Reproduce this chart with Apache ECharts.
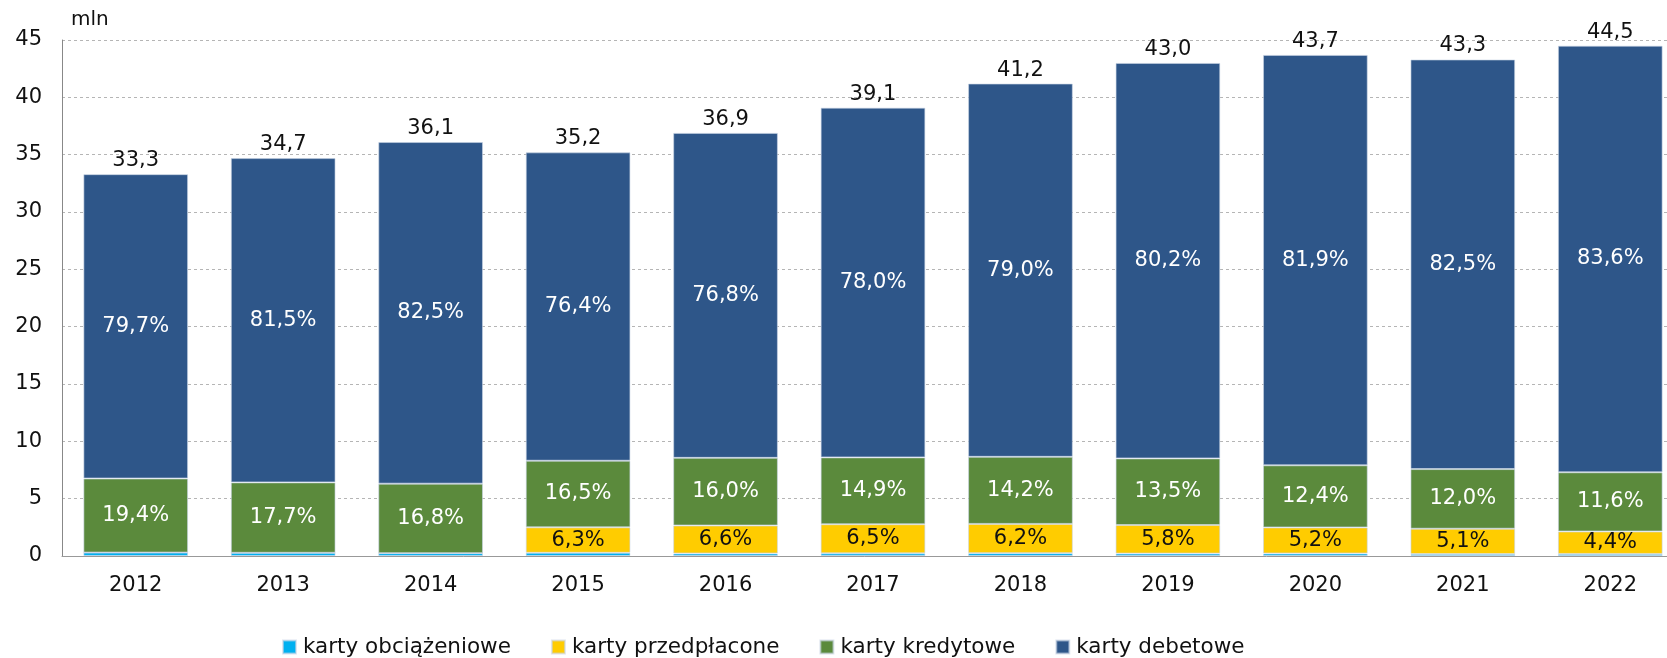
<!DOCTYPE html>
<html>
<head>
<meta charset="utf-8">
<script src="https://cdn.jsdelivr.net/npm/echarts@6/dist/echarts.min.js"></script>
<style>
html,body{margin:0;padding:0;background:#fff;}
#chart{width:1667px;height:658px;}
</style>
</head>
<body>
<div id="chart"></div>
<script>
// Data (mln)
var years = ['2012','2013','2014','2015','2016','2017','2018','2019','2020','2021','2022'];
var totals = [33.3, 34.7, 36.1, 35.2, 36.9, 39.1, 41.2, 43.0, 43.7, 43.3, 44.5];
var chargeCards  = [0.30, 0.28, 0.25, 0.28, 0.22, 0.23, 0.25, 0.21, 0.22, 0.17, 0.18];
var prepaidCards = [0, 0, 0, 2.22, 2.44, 2.54, 2.55, 2.49, 2.27, 2.21, 1.96];
var creditCards  = [6.46, 6.14, 6.06, 5.81, 5.90, 5.83, 5.85, 5.81, 5.42, 5.20, 5.16];
var debitCards   = [26.54, 28.28, 29.79, 26.89, 28.34, 30.50, 32.55, 34.49, 35.79, 35.72, 37.20];
var pctPrepaid = ['', '', '', '6,3%', '6,6%', '6,5%', '6,2%', '5,8%', '5,2%', '5,1%', '4,4%'];
var pctCredit  = ['19,4%', '17,7%', '16,8%', '16,5%', '16,0%', '14,9%', '14,2%', '13,5%', '12,4%', '12,0%', '11,6%'];
var pctDebit   = ['79,7%', '81,5%', '82,5%', '76,4%', '76,8%', '78,0%', '79,0%', '80,2%', '81,9%', '82,5%', '83,6%'];
var totalLabels = ['33,3', '34,7', '36,1', '35,2', '36,9', '39,1', '41,2', '43,0', '43,7', '43,3', '44,5'];
var yTicks = [0, 5, 10, 15, 20, 25, 30, 35, 40, 45];
var seriesNames = ['karty obciążeniowe', 'karty przedpłacone', 'karty kredytowe', 'karty debetowe'];

var FONT = 'DejaVu Sans';
var FS = 21;
var chart = echarts.init(document.getElementById('chart'), null, {renderer: 'canvas'});

function bar(name, data, color, labels, labelColor) {
  return {
    name: name, type: 'bar', stack: 'total', data: data,
    barCategoryGap: '29%',
    itemStyle: {color: color, borderColor: 'rgba(200,212,228,0.6)', borderWidth: 1},
    label: labels ? {
      show: true, position: 'inside', color: labelColor,
      fontFamily: FONT, fontSize: FS,
      formatter: function (p) { return labels[p.dataIndex]; }
    } : {show: false},
    emphasis: {disabled: true},
    animation: false
  };
}

var option = {
  animation: false,
  textStyle: {fontFamily: FONT},
  grid: {left: 62, width: 1622, top: 40, bottom: 102, containLabel: false, outerBoundsMode: 'none'},
  legend: {
    data: seriesNames,
    left: 282, top: 636, padding: 0,
    icon: 'rect', itemWidth: 13, itemHeight: 13, itemGap: 40,
    textStyle: {fontFamily: FONT, fontSize: 21.5, color: '#111', padding: [0, 0, 0, 2]}
  },
  xAxis: {
    type: 'category', data: years,
    axisLine: {lineStyle: {color: '#999', width: 1}},
    axisTick: {show: false},
    axisLabel: {fontFamily: FONT, fontSize: FS, color: '#111', margin: 19}
  },
  yAxis: {
    type: 'value', min: 0, max: 45, interval: 5,
    name: 'mln', nameLocation: 'end', nameGap: 10,
    nameTextStyle: {fontFamily: FONT, fontSize: 20, color: '#111', align: 'left', padding: [0, 0, 0, 9]},
    axisLine: {show: true, lineStyle: {color: '#888', width: 1}},
    axisTick: {show: false},
    axisLabel: {fontFamily: FONT, fontSize: FS, color: '#111', margin: 20,
      formatter: function (v) { return yTicks.indexOf(v) >= 0 ? String(v) : ''; }},
    splitLine: {show: true, lineStyle: {color: '#b5b5b5', type: [3, 3], width: 1}}
  },
  series: [
    bar(seriesNames[0], chargeCards, '#00B0F0', null, '#000'),
    bar(seriesNames[1], prepaidCards, '#FFCC00', pctPrepaid, '#111'),
    bar(seriesNames[2], creditCards, '#5B8A3C', pctCredit, '#fff'),
    bar(seriesNames[3], debitCards, '#2E5689', pctDebit, '#fff'),
    {
      name: 'suma', type: 'bar', stack: 'total',
      data: totals.map(function () { return 0; }),
      itemStyle: {color: 'transparent'},
      label: {show: true, position: 'top', distance: 3, color: '#111',
        fontFamily: FONT, fontSize: FS,
        formatter: function (p) { return totalLabels[p.dataIndex]; }},
      emphasis: {disabled: true},
      animation: false
    }
  ]
};
chart.setOption(option);
</script>
</body>
</html>
